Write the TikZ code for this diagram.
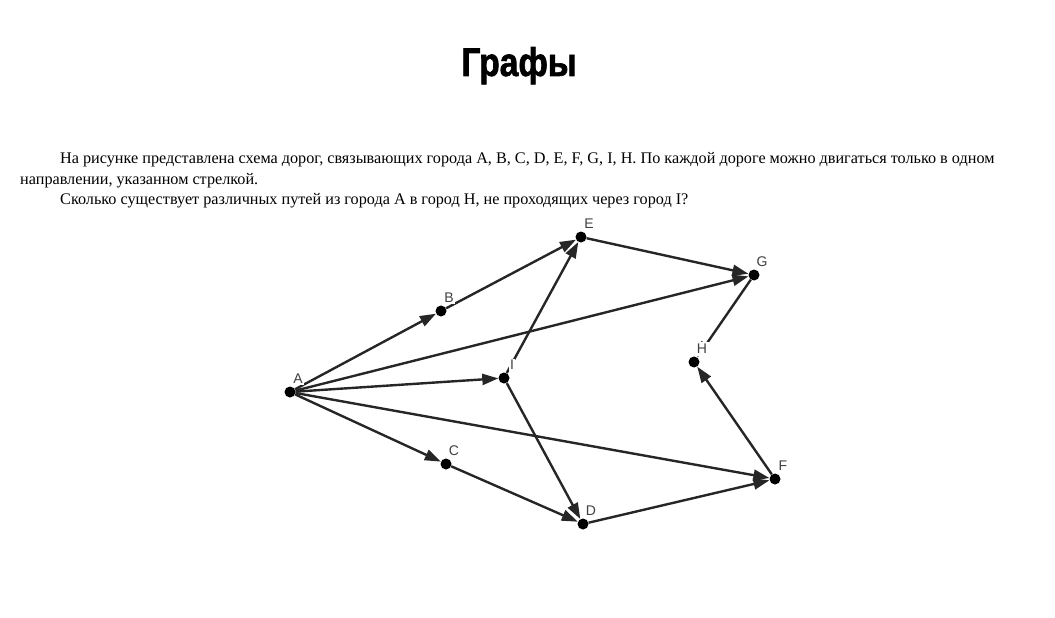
\documentclass[tikz,border=0pt]{standalone}
\usepackage{fontspec}
\setmainfont{Liberation Serif}
\newfontfamily\lblfont{Liberation Sans}
\newfontfamily\titlefont[FakeStretch=0.84,FakeBold=1.6]{Liberation Sans Bold}
\usetikzlibrary{arrows.meta}

\begin{document}
\begin{tikzpicture}[x=1pt,y=-1pt,
  city/.style={circle,fill=black,inner sep=0pt,minimum size=11pt},
  road/.style={-{Triangle[length=16pt,width=11pt]},line width=2.4pt,draw=black!85},
  lbl/.style={font=\lblfont\fontsize{14}{14}\selectfont,text=black!75,fill=white,inner sep=1pt},
  txt/.style={anchor=base west,inner sep=0pt,font=\fontsize{16.2}{16.2}\selectfont}]
\useasboundingbox (0,0) rectangle (1055,618);
\node[font=\titlefont\fontsize{40}{40}\selectfont,inner sep=0pt,anchor=base] (title) at (519,76) {Графы};
\node[txt] (line1) at (60,163) {На рисунке представлена схема дорог, связывающих города A, B, C, D, E, F, G, I, H. По каждой дороге можно двигаться только в одном};
\node[txt] (line2) at (20,184) {направлении, указанном стрелкой.};
\node[txt] (line3) at (60,204) {Сколько существует различных путей из города A в город H, не проходящих через город I?};
% cities
\node[city] (A) at (290,392) {};
\node[city] (B) at (441,311) {};
\node[city] (C) at (446,464) {};
\node[city] (D) at (583,524) {};
\node[city] (E) at (581,237) {};
\node[city] (F) at (775,479) {};
\node[city] (G) at (754,275) {};
\node[city] (H) at (694,362) {};
\node[city] (I) at (504,378) {};
% roads
\foreach \a/\b in {A/B,B/E,A/G,A/I,A/C,A/F,C/D,I/E,I/D,D/F,E/G,F/H,G/H}
  \draw[road] (\a) -- (\b);
% labels
\foreach \c in {A,B,C,D,E,F,G,I}
  \node[lbl] at ([shift={(8,-13)}]\c) {\c};
\node[lbl,inner xsep=4.5pt,inner ysep=2.5pt] at ([shift={(8,-13)}]H) {H};
\end{tikzpicture}
\end{document}
